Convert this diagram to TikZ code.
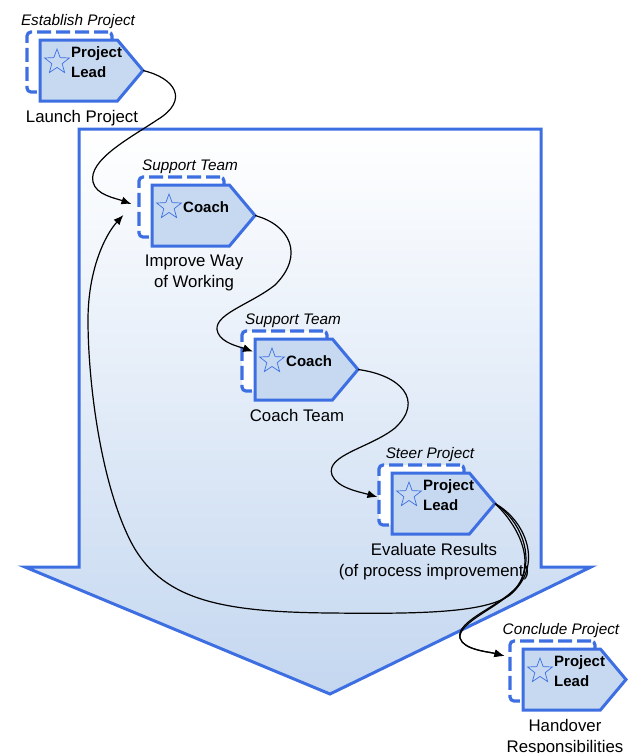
\documentclass[tikz,border=0pt]{standalone}
\usepackage{fontspec}
\setmainfont{Liberation Sans}
\usetikzlibrary{shapes.symbols,shapes.geometric,arrows.meta,calc}
\definecolor{bblue}{RGB}{61,111,226}
\definecolor{nfill}{RGB}{198,217,241}
\definecolor{afill}{RGB}{196,215,240}
\tikzset{
 solidbox/.style={shape=signal, signal to=east, signal pointer angle=100, draw=bblue, line width=3pt, fill=nfill, minimum width=103pt, minimum height=61pt, inner sep=0pt, outer sep=0pt, anchor=west},
 dashbox/.style={rectangle, rounded corners=4pt, draw=bblue, line width=3.2pt, dash pattern=on 14pt off 5pt, fill=white, minimum width=85pt, minimum height=60pt, inner sep=0pt},
 starmark/.style={star, star points=5, star point ratio=2.4, draw=bblue, line width=0.7pt, minimum size=26pt, inner sep=0pt},
 roletext/.style={font=\fontsize{15}{20}\selectfont\bfseries, align=left, anchor=west, inner sep=0pt},
 phasetext/.style={font=\fontsize{15.3}{18}\selectfont\itshape, anchor=base, inner sep=0pt},
 labeltext/.style={font=\fontsize{16.8}{21}\selectfont, align=center, anchor=north, inner sep=0pt},
 conn/.style={draw=black, line width=1.2pt, -{Latex[length=10pt,width=8pt]}},
 bigarrow/.style={draw=bblue, line width=3pt, top color=white, bottom color=afill},
}
\newcommand\PhaseBlock[6]{%
 \node[dashbox] (d#1) at ({#2+29.5},{#3+22}) {};
 \node[solidbox] (n#1) at (#2,{#3+30.5}) {};
 \node[starmark] (s#1) at ({#2+17},{#3+22}) {};
 \node[roletext] (r#1) at ({#2+31},{#3+22}) {#5};
 \node[phasetext] (p#1) at ({#2+38},{#3-14.6}) {#4};
 \node[labeltext] (l#1) at ({#2+42},{#3+70}) {#6};
}
\begin{document}
\begin{tikzpicture}[x=1pt,y=-1pt]
\useasboundingbox (0,0) rectangle (630,753);
\path[bigarrow] (79,129) -- (541,129) -- (541,567) -- (591,567) -- (330,694) -- (25,567) -- (79,567) -- cycle;
\PhaseBlock{1}{40}{40}{Establish Project}{Project\\Lead}{Launch Project}
\PhaseBlock{2}{152}{185}{Support Team}{Coach}{Improve Way\\of Working}
\PhaseBlock{3}{255}{339}{Support Team}{Coach}{Coach Team}
\PhaseBlock{4}{392}{473}{Steer Project}{Project\\Lead}{Evaluate Results\\(of process improvement)}
\PhaseBlock{5}{523}{649}{Conclude Project}{Project\\Lead}{Handover\\Responsibilities}
\draw[conn] (n1.east) .. controls (175,78) and (190,100) .. (157,120) .. controls (130,138) and (88,160) .. (93,182) .. controls (96,195) and (115,198) .. ($(d2.west)+(-6,-3)$);
\draw[conn] (n2.east) .. controls (290,225) and (305,255) .. (275,285) .. controls (250,305) and (210,315) .. (218,333) .. controls (222,343) and (240,347) .. ($(n3.west)+(-2,-18)$);
\draw[conn] (n3.east) .. controls (400,375) and (425,400) .. (395,428) .. controls (370,448) and (325,455) .. (332,475) .. controls (337,488) and (360,492) .. ($(d4.west)+(0,2)$);
\draw[conn] (n4.east) .. controls (520,520) and (535,555) .. (520,583) .. controls (505,605) and (455,620) .. (460,638) .. controls (463,650) and (490,652) .. ($(d5.west)+(-4,-15)$);
\draw[conn] (n4.east) .. controls (515,522) and (538,560) .. (516,588) .. controls (500,607) and (458,622) .. (460,638) .. controls (463,650) and (490,652) .. ($(d5.west)+(-4,-15)$);
\draw[conn] (n4.east) .. controls (525,520) and (545,565) .. (510,595) .. controls (485,613) and (420,614) .. (330,613) .. controls (220,612) and (160,600) .. (130,540) .. controls (100,480) and (88,380) .. (88,320) .. controls (88,270) and (105,235) .. ($(d2.west)+(-14,8)$);
\end{tikzpicture}
\end{document}
